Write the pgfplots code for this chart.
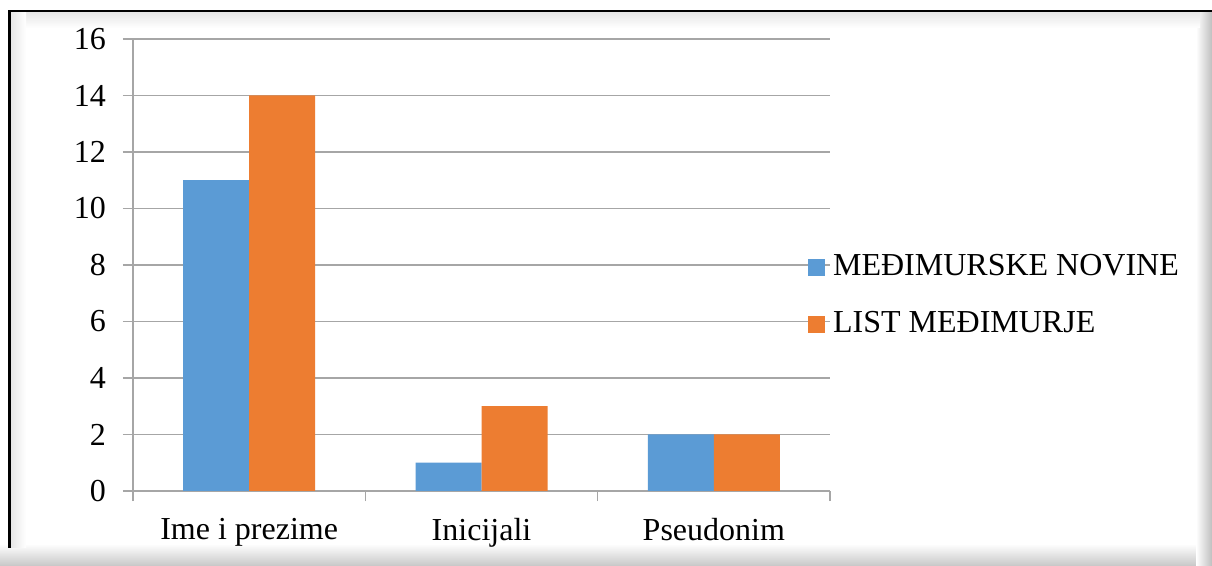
\documentclass[border=0pt]{standalone}
\usepackage{pgfplots}
\pgfplotsset{compat=1.18}
\usepackage{fontspec}
\setmainfont{Liberation Serif}
\definecolor{cblue}{HTML}{5B9BD5}
\definecolor{corange}{HTML}{ED7D31}
\definecolor{cgrid}{HTML}{A6A6A6}
\begin{document}
\begin{tikzpicture}
\fontsize{16}{19}\selectfont
\path[use as bounding box] (0,0) rectangle (606pt,-283pt);
% shadow bands
\shade[top color=white, bottom color=black!22] (0pt,-272pt) rectangle (606pt,-283pt);
\shade[left color=white, right color=black!25] (598pt,-6pt) rectangle (606pt,-283pt);
\shade[top color=black!10, bottom color=white] (5pt,-6pt) rectangle (600pt,-14pt);
\shade[left color=black!10, right color=white] (5pt,-6pt) rectangle (13pt,-274pt);
\fill[white] (13pt,-14pt) rectangle (598pt,-272pt);
\draw[line width=1.3pt, black] (606pt,-5.5pt) -- (4.8pt,-5.5pt) -- (4.8pt,-274pt);
\begin{axis}[
  at={(66.5pt,-245.5pt)}, anchor=south west,
  scale only axis, width=348.5pt, height=226pt,
  ybar=0pt, bar width=33pt,
  xmin=-0.5, xmax=2.5, ymin=0, ymax=16,
  xtick={0,1,2},
  xticklabels={Ime i prezime, Inicijali, Pseudonim},
  major x tick style={draw=none},
  minor xtick={-0.5,0.5,1.5,2.5},
  ytick={0,2,...,16},
  tick align=outside,
  minor tick length=5pt,
  major tick length=5pt,
  tick style={cgrid, line width=0.6pt},
  ymajorgrids, major grid style={cgrid, line width=0.6pt},
  axis line style={cgrid, line width=0.6pt},
  axis x line*=bottom, axis y line*=left,
  x axis line style={-}, y axis line style={-},
  /pgf/number format/assume math mode=true,
  ticklabel style={font=\fontsize{16}{19}\selectfont},
  yticklabel style={xshift=-3pt},
  xticklabel style={yshift=-3pt},
  legend style={at={(0.968,0.432)}, anchor=west, draw=none, fill=none,
    font=\fontsize{16}{19}\selectfont, inner sep=0pt, row sep=14.5pt,
    nodes={inner sep=0pt, text height=11pt, text depth=3pt},
    /tikz/every odd column/.append style={column sep=4pt}},
  legend cell align=left,
  legend image code/.code={\fill[#1] (0pt,-4.25pt) rectangle (8.5pt,4.25pt);},
]
\addplot[fill=cblue, draw=none] coordinates {(0,11) (1,1) (2,2)};
\addplot[fill=corange, draw=none] coordinates {(0,14) (1,3) (2,2)};
\legend{MEĐIMURSKE NOVINE, LIST MEĐIMURJE}
\end{axis}
\end{tikzpicture}
\end{document}
